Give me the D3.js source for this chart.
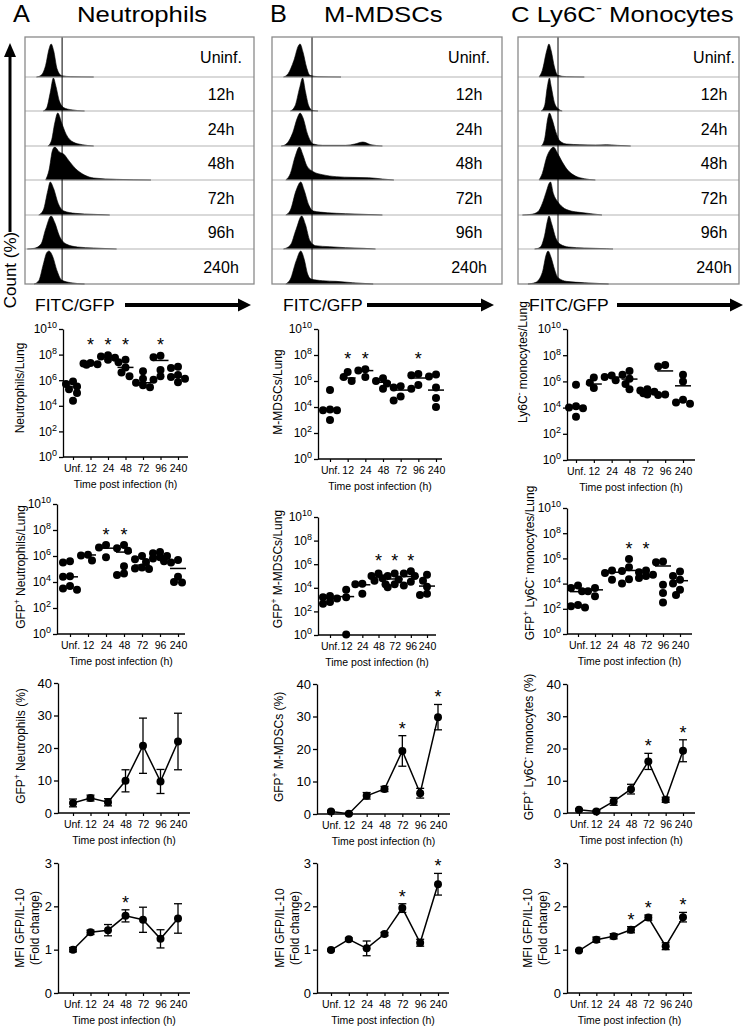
<!DOCTYPE html>
<html>
<head>
<meta charset="utf-8">
<script src="https://cdn.jsdelivr.net/npm/d3@7"></script>
<style>
body { margin: 0; background: #fff; }
svg text { font-family: "Liberation Sans", Arial, sans-serif; }
</style>
</head>
<body>
<div id="fig"></div>
<script>
// ---------- data ----------
var times = ["Unf.", "12", "24", "48", "72", "96", "240"];
var histLabels = ["Uninf.", "12h", "24h", "48h", "72h", "96h", "240h"];

// histogram outlines: [FITC position (0-100 across the box), relative count]
var neutHist = [
  [[5,0],[7,0.05],[9,0.35],[10.5,0.85],[11.4,1],[12.5,0.8],[14,0.25],[16,0.04],[20,0.01],[30,0]],
  [[8,0],[9.5,0.1],[11,0.55],[12.4,1],[13.5,0.75],[15,0.3],[17,0.1],[20,0.04],[26,0]],
  [[10,0],[11.5,0.15],[13,0.7],[14.3,1],[16,0.7],[18,0.35],[21,0.12],[25,0.04],[30,0]],
  [[9,0],[10.5,0.3],[12,0.9],[13,1],[15,0.85],[17,0.78],[19,0.6],[22,0.35],[26,0.15],[30,0.06],[40,0.02],[55,0]],
  [[6,0],[8,0.15],[10,0.75],[11,1],[12.5,0.8],[14.5,0.35],[17,0.12],[22,0.05],[30,0.02],[37,0]],
  [[1,0],[4,0.02],[7,0.15],[9,0.6],[11.4,1],[13,0.8],[15,0.4],[18,0.15],[23,0.06],[30,0.03],[40,0]],
  [[4,0],[6,0.1],[8,0.6],[9.5,0.95],[10.5,1],[12,0.85],[14,0.4],[16,0.12],[20,0.04],[26,0]]
];
var mdscHist = [
  [[5,0],[7,0.1],[9.5,0.5],[11.5,0.95],[12.2,1],[13.5,0.75],[15,0.3],[16.5,0.05],[20,0.01],[30,0]],
  [[8,0],[10,0.15],[12,0.7],[13.3,1],[14.5,0.6],[16,0.15],[17.5,0.02],[20,0]],
  [[4,0],[6,0.05],[9,0.4],[11,0.85],[12.2,1],[13.5,0.85],[15.5,0.35],[18,0.06],[22,0.02],[32,0.02],[36,0.06],[39.5,0.12],[43,0.04],[48,0]],
  [[6,0],[8,0.2],[10,0.7],[11.9,1],[13.5,0.75],[15,0.45],[18,0.25],[22,0.16],[28,0.1],[35,0.08],[42,0.07],[48,0.03],[53,0]],
  [[6,0],[8,0.15],[10.5,0.75],[12.5,1],[14,0.75],[16,0.3],[18,0.12],[24,0.07],[32,0.04],[40,0.02],[48,0]],
  [[5,0],[8,0.12],[10.5,0.6],[12.9,1],[14.5,0.75],[16.5,0.25],[19,0.1],[25,0.07],[32,0.04],[40,0.02],[45,0]],
  [[6,0],[8,0.15],[10.5,0.7],[12.5,1],[14,0.75],[15.5,0.3],[17,0.15],[22,0.1],[28,0.08],[35,0.04],[44,0]]
];
var monoHist = [
  [[9.5,0],[11,0.2],[13,0.8],[14,1],[15,0.8],[16.5,0.3],[18,0.05],[22,0.01],[30,0]],
  [[10.5,0],[12,0.15],[13.3,0.75],[14.2,1],[15,0.75],[16.5,0.25],[18,0.08],[20,0]],
  [[10.5,0],[12,0.2],[13.5,0.85],[14.2,1],[15.5,0.8],[17,0.45],[19,0.15],[22,0.06],[28,0.04],[35,0.03],[40,0.04],[45,0.02],[51,0]],
  [[9.5,0],[11,0.2],[13,0.7],[15,0.95],[16,1],[18,0.8],[20,0.55],[22.5,0.3],[26,0.12],[30,0.04],[35,0]],
  [[2,0],[6,0.02],[9,0.1],[11,0.35],[13,0.75],[14,0.95],[14.7,1],[16,0.65],[18,0.4],[20,0.25],[24,0.12],[28,0.08],[33,0.04],[38,0]],
  [[7.5,0],[10,0.05],[12,0.4],[13.3,0.85],[14,1],[15.3,0.75],[17,0.35],[19,0.15],[23,0.06],[30,0.03],[40,0.01],[43,0]],
  [[4.5,0],[8,0.05],[11,0.35],[12.8,0.9],[13.6,1],[15,0.8],[16.5,0.45],[18,0.2],[22,0.08],[30,0.04],[41,0]]
];
var gates = [16.2, 17.4, 18.1];

// cells per lung (individual mice) and the group means
var neutLung = [[8e5,5e5,3.2e5,2e5,1e5,2.5e4],[2.2e7,1.8e7,1.6e7,2e7],[9e7,7e7,5.6e7,4e7],
  [4e7,2.5e7,1e7,4e6,2e6],[5e6,1.3e6,6.3e5,4e5,2.8e5],[8e7,6.3e7,6.3e6,2e6,1.1e6],[1.1e7,9e6,2.5e6,1.8e6,1.3e6,7e5]];
var neutLungMean = [3e5,2e7,6.3e7,1e7,6.3e5,3.5e7,1.8e6];
var neutLungSig = ["12","24","48","96"];

var gfpNeut = [[4e5,3.2e5,2.8e4,2.5e4,5e3,3.2e3,2.5e3],[1.25e6,1.1e6,4.5e5],[7e6,4.5e6,8e5],
  [7e6,4e6,2.5e6,1.6e5,4.5e4,3.5e4],[1e6,5.6e5,3.5e5,1.3e5,1.1e5,1e5],[2e6,1.6e6,1e6,8e5,6.3e5,4e5],[5e5,3.2e5,2.5e4,1e4,9e3]];
var gfpNeutMean = [2.5e4,1.2e6,4e6,2e6,2e5,9e5,1.1e5];
var gfpNeutSig = ["24","48"];

var mdscLung = [[2e5,6.3e3,5.6e3,5.6e3,1e3],[5e6,2e6,1e6],[8e6,6.3e6,2e6],[1.6e6,1e6,6.3e5,2.5e5],
  [4e5,3.2e5,6.3e4,3.2e4],[3.5e6,2.8e6,5e5,2.5e5],[3.2e6,2.2e6,3.2e5,5e4,1e4]];
var mdscLungMean = [7e3,1.7e6,6.3e6,8e5,2e5,1.7e6,2e5];
var mdscLungSig = ["12","24","96"];

var gfpMdsc = [[2e3,1.6e3,1.25e3,6.3e2,4.5e2],[7e3,1.6e3,1.1],[2.2e4,2e4,3.2e3],[1.6e5,1e5,6.3e4,4e4,2e4],
  [1.6e5,1e5,5e4,2e4,1.1e4],[2.5e5,1.6e5,1e5,3.2e4,1.6e4],[1.25e5,4e4,1.25e4,3.2e3,2.5e3]];
var gfpMdscMean = [1.25e3,1.8e3,1.8e4,8e4,5.6e4,9e4,1.4e4];
var gfpMdscSig = ["48","72","96"];

var monoLung = [[5.6e5,1.25e4,1e4,9e3,2e3],[2e6,8e5,3.2e5],[2.8e6,2.2e6,1.25e6],[6.3e6,3.2e6,1.6e6,6.3e5,2.5e5],
  [2.5e5,2e5,1.6e5,1.25e5,1e5],[1.8e7,1.4e7,1e5,9e4],[3.2e6,1e6,4e4,2.5e4,2e4]];
var monoLungMean = [1.2e4,6.3e5,2.1e6,1.5e6,1.7e5,6.3e6,4.6e5];
var monoLungSig = [];

var gfpMono = [[7e3,4.5e3,2.5e3,2e2,1.6e2,1.25e2],[4.5e3,2.5e3,1e3],[1.1e5,7e4,2e4],[9e5,2e5,1e5,2.2e4,1e4],
  [1.1e5,8e4,5e4,4e4,2.8e4],[5.6e5,5e5,8e3,1.8e3,3.2e2],[9e4,4e4,2e4,1e4,3.2e3,1.25e3]];
var gfpMonoMean = [2.3e3,3.2e3,8e4,1.1e5,4e4,2.5e5,1.7e4];
var gfpMonoSig = ["48","72"];

// % GFP+ (mean, error)
var pctNeut = [3.1,4.6,3.3,9.9,20.7,9.7,22];
var pctNeutErr = [1.2,0.9,1.1,3.4,8.5,3.7,8.7];
var pctNeutSig = [];
var pctMdsc = [0.8,0.1,5.6,7.7,19.4,6.4,29.8];
var pctMdscErr = [0.3,0.3,1.0,0.8,4.7,1.5,3.9];
var pctMdscSig = ["72","240"];
var pctMono = [1.0,0.5,3.6,7.4,16,4.1,19.3];
var pctMonoErr = [0.3,0.3,1.2,1.5,2.5,0.8,3.4];
var pctMonoSig = ["72","240"];

// MFI fold change (mean, error)
var mfiNeut = [1.0,1.4,1.45,1.78,1.69,1.25,1.72];
var mfiNeutErr = [0.05,0.05,0.13,0.14,0.29,0.21,0.34];
var mfiNeutSig = ["48"];
var mfiMdsc = [0.99,1.24,1.03,1.36,1.96,1.16,2.51];
var mfiMdscErr = [0.02,0.03,0.17,0.04,0.1,0.08,0.25];
var mfiMdscSig = ["72","240"];
var mfiMono = [0.98,1.23,1.31,1.46,1.74,1.08,1.75];
var mfiMonoErr = [0.02,0.06,0.06,0.07,0.06,0.08,0.11];
var mfiMonoSig = ["48","72","240"];

var logTicks = [1, 1e2, 1e4, 1e6, 1e8, 1e10];
var pctTicks = [0, 10, 20, 30, 40];
var mfiTicks = [0, 1, 2, 3];

// ---------- drawing ----------
var svg = d3.select("#fig").append("svg")
    .attr("width", 750)
    .attr("height", 1027);

// text with ^superscript^ parts
function rich(sel, str, fs) {
    var up = false;
    str.split("^").forEach(function(p, i) {
        if (p === "") return;
        var t = sel.append("tspan").text(p);
        if (i % 2) {
            t.attr("dy", -fs * 0.38).attr("font-size", fs * 0.7);
            up = true;
        } else if (up) {
            t.attr("dy", fs * 0.38);
            up = false;
        }
    });
}

function arrowRight(x1, x2, y) {
    svg.append("line").attr("x1", x1).attr("x2", x2 - 10).attr("y1", y).attr("y2", y)
        .attr("stroke", "#000").attr("stroke-width", 4);
    svg.append("path").attr("d", "M" + x2 + "," + y + "L" + (x2 - 13) + "," + (y - 6.5) + "L" + (x2 - 13) + "," + (y + 6.5) + "Z");
}

// column titles (the original lettering is a little wider than Arial)
var titles = [
    {letter: "A", lx: 13, name: "Neutrophils", nx: 77},
    {letter: "B", lx: 270, name: "M-MDSCs", nx: 324},
    {letter: "", lx: 0, name: "C Ly6C^-^ Monocytes", nx: 511}
];
titles.forEach(function(t) {
    if (t.letter) {
        svg.append("text").attr("transform", "translate(" + t.lx + ",22) scale(1.1,1)")
            .attr("font-size", 23).text(t.letter);
    }
    rich(svg.append("text").attr("transform", "translate(" + t.nx + ",22) scale(1.12,1)")
        .attr("font-size", 23), t.name, 23);
});

// Count (%) arrow
svg.append("line").attr("x1", 10).attr("x2", 10).attr("y1", 232).attr("y2", 54)
    .attr("stroke", "#000").attr("stroke-width", 3);
svg.append("path").attr("d", "M10,43L4,57L16,57Z");
svg.append("text").attr("transform", "translate(16,270) rotate(-90)")
    .attr("text-anchor", "middle").attr("font-size", 17).text("Count (%)");

// histogram stacks
var rowEdges = [37, 77, 111, 146, 180, 215, 249, 284];
var histCols = [
    {left: 25, right: 254, data: neutHist, gate: gates[0], labelX: 221, fx: 35, a1: 125, a2: 251},
    {left: 272, right: 502, data: mdscHist, gate: gates[1], labelX: 469, fx: 283, a1: 367, a2: 494},
    {left: 518, right: 739, data: monoHist, gate: gates[2], labelX: 714, fx: 529, a1: 617, a2: 743}
];

histCols.forEach(function(c) {
    var g = svg.append("g");
    var hx = d3.scaleLinear().domain([0, 100]).range([c.left, c.right]);

    c.data.forEach(function(pts, i) {
        var base = rowEdges[i + 1];
        var hy = d3.scaleLinear().domain([0, 1]).range([base, base - 33]);
        var area = d3.area()
            .x(function(d) { return hx(d[0]); })
            .y0(base)
            .y1(function(d) { return hy(d[1]); })
            .curve(d3.curveMonotoneX);
        g.append("path").datum(pts).attr("d", area)
            .attr("fill", "#000").attr("stroke", "#000").attr("stroke-width", 0.6);
        if (i > 0) {
            g.append("line").attr("x1", c.left).attr("x2", c.right)
                .attr("y1", rowEdges[i]).attr("y2", rowEdges[i])
                .attr("stroke", "#b4b4b4").attr("stroke-width", 1.2);
        }
        g.append("text").attr("x", c.labelX).attr("y", (rowEdges[i] + rowEdges[i + 1]) / 2 + 6)
            .attr("text-anchor", "middle").attr("font-size", 16).text(histLabels[i]);
    });

    g.append("line").attr("x1", hx(c.gate)).attr("x2", hx(c.gate))
        .attr("y1", rowEdges[0]).attr("y2", rowEdges[7])
        .attr("stroke", "#000").attr("stroke-width", 1);
    g.append("rect").attr("x", c.left).attr("y", rowEdges[0])
        .attr("width", c.right - c.left).attr("height", rowEdges[7] - rowEdges[0])
        .attr("fill", "none").attr("stroke", "#8a8a8a").attr("stroke-width", 1.3);

    svg.append("text").attr("transform", "translate(" + c.fx + ",311) scale(1.03,1)")
        .attr("font-size", 17).text("FITC/GFP");
    arrowRight(c.a1, c.a2, 305);
});

// panels below the histograms
var panels = [
    {kind: "log", vals: neutLung, mean: neutLungMean, sig: neutLungSig, ax: 63, top: 329, bot: 457, x0: 73, x1: 178, xEnd: 188, label: "Neutrophils/Lung", lx: 24, ly: 388},
    {kind: "log", vals: gfpNeut, mean: gfpNeutMean, sig: gfpNeutSig, ax: 57, top: 504, bot: 634, x0: 70, x1: 178, xEnd: 185, label: "GFP^+^ Neutrophils/Lung", lx: 25, ly: 567},
    {kind: "lin", vals: pctNeut, err: pctNeutErr, sig: pctNeutSig, ticks: pctTicks, ax: 58, top: 683, bot: 813, x0: 73, x1: 178, xEnd: 190, label: "GFP^+^ Neutrophils (%)", lx: 25, ly: 746},
    {kind: "lin", vals: mfiNeut, err: mfiNeutErr, sig: mfiNeutSig, ticks: mfiTicks, ax: 58, top: 863, bot: 993, x0: 73, x1: 178, xEnd: 190, label: "MFI GFP/IL-10", label2: "(Fold change)", lx: 24, ly: 928},

    {kind: "log", vals: mdscLung, mean: mdscLungMean, sig: mdscLungSig, ax: 318, top: 329, bot: 459, x0: 330, x1: 436, xEnd: 442, label: "M-MDSCs/Lung", lx: 282, ly: 392},
    {kind: "log", vals: gfpMdsc, mean: gfpMdscMean, sig: gfpMdscSig, ax: 318, top: 517, bot: 635, x0: 330, x1: 427, xEnd: 436, label: "GFP^+^ M-MDSCs/Lung", lx: 282, ly: 569},
    {kind: "lin", vals: pctMdsc, err: pctMdscErr, sig: pctMdscSig, ticks: pctTicks, ax: 317, top: 684, bot: 814, x0: 331, x1: 438, xEnd: 450, label: "GFP^+^ M-MDSCs (%)", lx: 283, ly: 747},
    {kind: "lin", vals: mfiMdsc, err: mfiMdscErr, sig: mfiMdscSig, ticks: mfiTicks, ax: 317, top: 863, bot: 993, x0: 331, x1: 438, xEnd: 449, label: "MFI GFP/IL-10", label2: "(Fold change)", lx: 284, ly: 928},

    {kind: "log", vals: monoLung, mean: monoLungMean, sig: monoLungSig, ax: 567, top: 329, bot: 460, x0: 576, x1: 683, xEnd: 695, label: "Ly6C^-^ monocytes/Lung", lx: 527, ly: 362},
    {kind: "log", vals: gfpMono, mean: gfpMonoMean, sig: gfpMonoSig, ax: 567, top: 508, bot: 634, x0: 578, x1: 680, xEnd: 692, label: "GFP^+^ Ly6C^-^ monocytes/Lung", lx: 534, ly: 563},
    {kind: "lin", vals: pctMono, err: pctMonoErr, sig: pctMonoSig, ticks: pctTicks, ax: 567, top: 684, bot: 813, x0: 579, x1: 683, xEnd: 695, label: "GFP^+^ Ly6C^-^ monocytes (%)", lx: 533, ly: 747},
    {kind: "lin", vals: mfiMono, err: mfiMonoErr, sig: mfiMonoSig, ticks: mfiTicks, ax: 567, top: 863, bot: 993, x0: 579, x1: 683, xEnd: 692, label: "MFI GFP/IL-10", label2: "(Fold change)", lx: 532, ly: 928}
];

var R = 4;

// nudge overlapping dots sideways, GraphPad style (some overlap allowed)
function swarm(vals, y, cx) {
    var placed = [];
    var offs = [0, -4, 4, -7, 7];
    vals.map(function(v) { return {v: v, y: y(v)}; })
        .sort(function(a, b) { return a.y - b.y; })
        .forEach(function(p) {
            var best = 0, bestD = -1;
            for (var j = 0; j < offs.length; j++) {
                var dmin = d3.min(placed, function(q) { return Math.hypot(q.x - (cx + offs[j]), q.y - p.y); });
                if (dmin === undefined) dmin = Infinity;
                if (dmin >= 6) { best = offs[j]; bestD = dmin; break; }
                if (dmin > bestD) { bestD = dmin; best = offs[j]; }
            }
            p.x = cx + best;
            placed.push(p);
        });
    return placed;
}

panels.forEach(function(p) {
    var g = svg.append("g");
    var x = d3.scalePoint().domain(times).range([p.x0, p.x1]);
    var y, ya;

    if (p.kind === "log") {
        y = d3.scaleLog().domain([1, 1e10]).range([p.bot, p.top]);
        ya = g.append("g").attr("transform", "translate(" + p.ax + ",0)")
            .call(d3.axisLeft(y).tickValues(logTicks).tickSize(4).tickSizeOuter(0).tickPadding(2));
        ya.selectAll(".tick text").each(function(d) {
            var t = d3.select(this).text("10").attr("font-size", 12);
            t.append("tspan").attr("dy", -5).attr("font-size", 9).text(Math.round(Math.log10(d)));
        });
    } else {
        y = d3.scaleLinear().domain([0, d3.max(p.ticks)]).range([p.bot, p.top]);
        ya = g.append("g").attr("transform", "translate(" + p.ax + ",0)")
            .call(d3.axisLeft(y).tickValues(p.ticks).tickFormat(d3.format("d"))
                .tickSize(4).tickSizeOuter(0).tickPadding(2));
        ya.selectAll(".tick text").attr("font-size", 13);
    }
    ya.attr("font-family", null).attr("font-size", null);
    ya.select(".domain").attr("stroke-width", 1.3);
    ya.selectAll(".tick line").attr("stroke-width", 1.3);

    var xa = g.append("g").attr("transform", "translate(0," + p.bot + ")")
        .call(d3.axisBottom(x).tickSize(3).tickPadding(5));
    xa.attr("font-family", null).attr("font-size", null);
    xa.select(".domain").remove();
    xa.selectAll(".tick text").attr("font-size", 10.5);
    xa.selectAll(".tick line").attr("stroke-width", 1.2);
    g.append("line").attr("x1", p.ax).attr("x2", p.xEnd).attr("y1", p.bot).attr("y2", p.bot)
        .attr("stroke", "#000").attr("stroke-width", 1.3);

    g.append("text").attr("x", (p.ax + p.xEnd) / 2).attr("y", p.bot + 31)
        .attr("text-anchor", "middle").attr("font-size", 10.5).text("Time post infection (h)");

    rich(g.append("text").attr("transform", "translate(" + p.lx + "," + p.ly + ") rotate(-90)")
        .attr("text-anchor", "middle").attr("font-size", 12), p.label, 12);
    if (p.label2) {
        g.append("text").attr("transform", "translate(" + (p.lx + 15) + "," + p.ly + ") rotate(-90)")
            .attr("text-anchor", "middle").attr("font-size", 12).text(p.label2);
    }

    if (p.kind === "log") {
        var top = Infinity;
        p.vals.forEach(function(grp, i) {
            var cx = x(times[i]);
            swarm(grp, y, cx).forEach(function(d) {
                g.append("circle").attr("cx", d.x).attr("cy", d.y).attr("r", R).attr("fill", "#000");
                top = Math.min(top, d.y);
            });
            g.append("line").attr("x1", cx - 8).attr("x2", cx + 8)
                .attr("y1", y(p.mean[i])).attr("y2", y(p.mean[i]))
                .attr("stroke", "#000").attr("stroke-width", 1.5);
        });
        p.sig.forEach(function(s) {
            g.append("text").attr("x", x(s)).attr("y", top - 14 + 10)
                .attr("text-anchor", "middle").attr("font-size", 18).text("*");
        });
    } else {
        var pts = p.vals.map(function(v, i) { return {t: times[i], v: v, e: p.err[i]}; });
        g.append("path").datum(pts)
            .attr("d", d3.line().x(function(d) { return x(d.t); }).y(function(d) { return y(d.v); }))
            .attr("fill", "none").attr("stroke", "#000").attr("stroke-width", 1.5);
        pts.forEach(function(d) {
            var cx = x(d.t);
            g.append("line").attr("x1", cx).attr("x2", cx).attr("y1", y(d.v - d.e)).attr("y2", y(d.v + d.e))
                .attr("stroke", "#000").attr("stroke-width", 1.3);
            [d.v - d.e, d.v + d.e].forEach(function(v) {
                g.append("line").attr("x1", cx - 4).attr("x2", cx + 4).attr("y1", y(v)).attr("y2", y(v))
                    .attr("stroke", "#000").attr("stroke-width", 1.3);
            });
            g.append("circle").attr("cx", cx).attr("cy", y(d.v)).attr("r", R).attr("fill", "#000");
        });
        p.sig.forEach(function(s) {
            var d = pts[times.indexOf(s)];
            g.append("text").attr("x", x(s)).attr("y", y(d.v + d.e) - 11 + 10)
                .attr("text-anchor", "middle").attr("font-size", 18).text("*");
        });
    }
});
</script>
</body>
</html>
